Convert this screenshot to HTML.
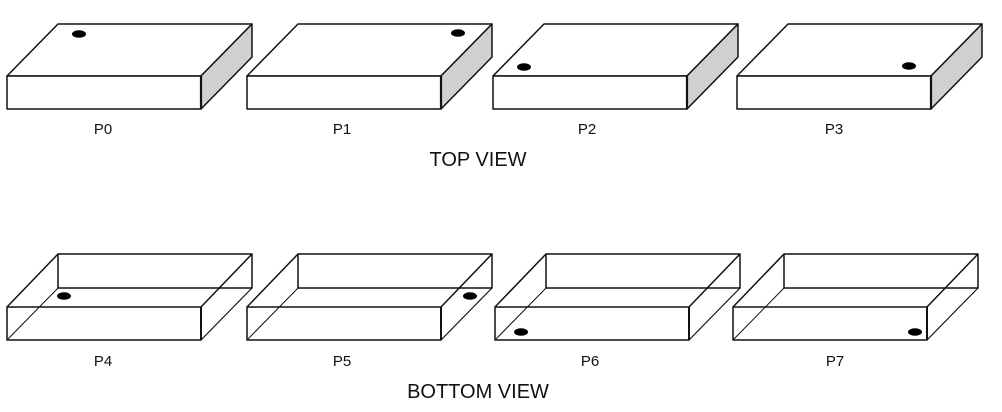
<!DOCTYPE html>
<html><head><meta charset="utf-8"><style>
html,body{margin:0;padding:0;background:#fff;}
svg{display:block;}
text{font-family:"Liberation Sans",sans-serif;fill:#111;}
</style></head><body>
<svg width="1002" height="412" viewBox="0 0 1002 412" xmlns="http://www.w3.org/2000/svg">
<defs>
<g id="top" stroke="#111" stroke-width="1.5" stroke-linejoin="round">
  <polygon points="58,24 252,24 201,76 7,76" fill="#fff"/>
  <polygon points="252,24 252,57 201,109 201,76" fill="#d0d0d0"/>
  <rect x="7" y="76" width="194" height="33" fill="#fff"/>
  <line x1="201" y1="76" x2="201" y2="109" stroke-width="2.2"/>
</g>
<g id="bot" stroke="#111" fill="none" stroke-linejoin="round">
  <rect x="58" y="254" width="194" height="34" stroke-width="1.5"/>
  <line x1="58" y1="254" x2="7" y2="307" stroke-width="1.5"/>
  <line x1="252" y1="254" x2="201" y2="307" stroke-width="1.5"/>
  <line x1="252" y1="288" x2="201" y2="340" stroke-width="1.2"/>
  <line x1="58" y1="288" x2="7" y2="340" stroke-width="1"/>
  <rect x="7" y="307" width="194" height="33" stroke-width="1.5"/>
  <line x1="201" y1="307" x2="201" y2="340" stroke-width="2"/>
</g>
</defs>
<use href="#top"/>
<use href="#top" x="240"/>
<use href="#top" x="486"/>
<use href="#top" x="730"/>
<use href="#bot"/>
<use href="#bot" x="240"/>
<use href="#bot" x="488"/>
<use href="#bot" x="726"/>
<g fill="#000">
<ellipse cx="79" cy="34" rx="7" ry="3.8"/>
<ellipse cx="458" cy="33" rx="7" ry="3.8"/>
<ellipse cx="524" cy="67" rx="7" ry="3.8"/>
<ellipse cx="909" cy="66" rx="7" ry="3.8"/>
<ellipse cx="64" cy="296" rx="7" ry="3.8"/>
<ellipse cx="470" cy="296" rx="7" ry="3.8"/>
<ellipse cx="521" cy="332" rx="7" ry="3.8"/>
<ellipse cx="915" cy="332" rx="7" ry="3.8"/>
</g>
<g font-size="15" text-anchor="middle">
<text x="103" y="134">P0</text>
<text x="342" y="134">P1</text>
<text x="587" y="134">P2</text>
<text x="834" y="134">P3</text>
<text x="103" y="366">P4</text>
<text x="342" y="366">P5</text>
<text x="590" y="366">P6</text>
<text x="835" y="366">P7</text>
</g>
<g font-size="20" text-anchor="middle">
<text x="478" y="166">TOP VIEW</text>
<text x="478" y="398">BOTTOM VIEW</text>
</g>
</svg>
</body></html>
